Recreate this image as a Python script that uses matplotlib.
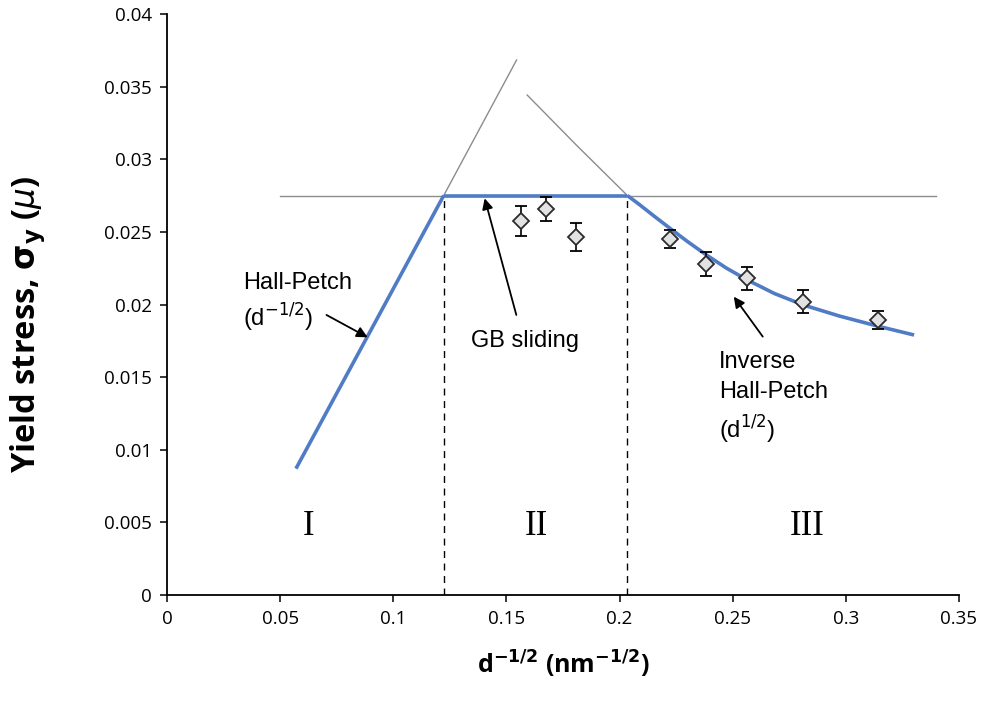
"""Yield stress vs inverse square root of grain size: Hall-Petch regimes."""

import matplotlib
matplotlib.use("Agg")
import matplotlib.pyplot as plt

BLUE = "#4f7cc4"
GRAY = "#8c8c8c"
TICK_FONT = "Open Sans"
LABEL_FONT = "Open Sans"
NOTE_FONT = "Liberation Sans"
ROMAN_FONT = "Liberation Serif"

# regime I: Hall-Petch line
hp_x = [0.057, 0.1223]
hp_y = [0.0087, 0.0275]
# regime II: GB sliding plateau
gb_x = [0.1223, 0.2035]
gb_y = [0.0275, 0.0275]
# regime III: inverse Hall-Petch fit
ihp_x = [0.2035, 0.2088, 0.2155, 0.2221, 0.2300, 0.2384, 0.2472, 0.2561,
         0.2684, 0.2812, 0.2971, 0.3139, 0.3302]
ihp_y = [0.0275, 0.02688, 0.02606, 0.02527, 0.02434, 0.02341, 0.02251, 0.02172,
         0.02076, 0.01997, 0.01921, 0.01852, 0.0179]

# thin grey extensions
ext_hp_x = [0.1223, 0.1545]
ext_hp_y = [0.0275, 0.03683]
ext_ihp_x = [0.1592, 0.1809, 0.2035]
ext_ihp_y = [0.03442, 0.03098, 0.0275]
plateau_x = [0.05, 0.3398]
plateau_y = [0.0275, 0.0275]

# regime boundaries
bounds = [0.1223, 0.2035]

# measured points
pt_x = [0.1566, 0.1673, 0.1806, 0.2221, 0.2383, 0.2562, 0.2812, 0.3141]
pt_y = [0.02575, 0.02657, 0.02467, 0.02451, 0.02279, 0.0218, 0.02019, 0.01893]
pt_err = [0.0010, 0.00084, 0.00096, 0.00065, 0.0008, 0.0008, 0.00078, 0.00065]

x_ticks = [0, 0.05, 0.1, 0.15, 0.2, 0.25, 0.3, 0.35]
x_tick_labels = ["0", "0.05", "0.1", "0.15", "0.2", "0.25", "0.3", "0.35"]
y_ticks = [0, 0.005, 0.01, 0.015, 0.02, 0.025, 0.03, 0.035, 0.04]
y_tick_labels = ["0", "0.005", "0.01", "0.015", "0.02", "0.025", "0.03", "0.035", "0.04"]

fig = plt.figure(figsize=(9.81, 7.07), dpi=100)
ax = fig.add_axes([0.1702, 0.1584, 0.8073, 0.8218])

ax.plot(plateau_x, plateau_y, color=GRAY, lw=1.0, zorder=1)
ax.plot(ext_hp_x, ext_hp_y, color=GRAY, lw=1.0, zorder=1)
ax.plot(ext_ihp_x, ext_ihp_y, color=GRAY, lw=1.0, zorder=1)

for b in bounds:
    ax.plot([b, b], [0, 0.0275], color="black", lw=1.0, ls=(0, (5, 4)), zorder=2)

ax.plot(hp_x, hp_y, color=BLUE, lw=2.6, solid_capstyle="butt", zorder=3)
ax.plot(gb_x, gb_y, color=BLUE, lw=2.6, solid_capstyle="butt", zorder=3)
ax.plot(ihp_x, ihp_y, color=BLUE, lw=2.6, solid_capstyle="butt",
        solid_joinstyle="round", zorder=3)

ax.errorbar(pt_x, pt_y, yerr=pt_err, fmt="D", ms=8.5, mfc="#e2e2e2", mec="#2b2b2b",
            mew=1.3, ecolor="black", elinewidth=1.2, capsize=4.5, capthick=1.2, zorder=4)

ax.set_xlim(0, 0.35)
ax.set_ylim(0, 0.04)
ax.set_xticks(x_ticks)
ax.set_xticklabels(x_tick_labels)
ax.set_yticks(y_ticks)
ax.set_yticklabels(y_tick_labels)
for lab in ax.get_xticklabels() + ax.get_yticklabels():
    lab.set_family(TICK_FONT)
    lab.set_fontsize(13.5)
ax.tick_params(direction="out", length=5, width=1.1, pad=6)

for side in ("top", "right"):
    ax.spines[side].set_visible(False)
for side in ("left", "bottom"):
    ax.spines[side].set_linewidth(1.3)

ax.set_xlabel(r"d$^{\mathbf{-1/2}}$ (nm$^{\mathbf{-1/2}}$)", family=LABEL_FONT,
              fontsize=18, fontweight="bold", labelpad=15)
ax.set_ylabel(r"Yield stress, $\mathbf{\sigma_y}$ ($\mu$)", family=LABEL_FONT,
              fontsize=23.5, fontweight="bold")
ax.yaxis.set_label_coords(-0.150, 0.466)

arrow = dict(arrowstyle="-|>", color="black", lw=1.3, mutation_scale=16, shrinkA=0, shrinkB=0)
ax.annotate("", xy=(0.0887, 0.01774), xytext=(0.0705, 0.01928), arrowprops=arrow)
ax.annotate("", xy=(0.1404, 0.02731), xytext=(0.1544, 0.01928), arrowprops=arrow)
ax.annotate("", xy=(0.2505, 0.02054), xytext=(0.2633, 0.01779), arrowprops=arrow)

ax.text(0.0335, 0.0201, "Hall-Petch\n(d$^{-1/2}$)", family=NOTE_FONT, fontsize=17,
        va="center", ha="left", linespacing=1.3)
ax.text(0.1345, 0.0175, "GB sliding", family=NOTE_FONT, fontsize=17, va="center", ha="left")
ax.text(0.2441, 0.0135, "Inverse\nHall-Petch\n(d$^{1/2}$)", family=NOTE_FONT, fontsize=17,
        va="center", ha="left", linespacing=1.45)

for xr, txt in [(0.0626, "I"), (0.1634, "II"), (0.2830, "III")]:
    ax.text(xr, 0.00475, txt, family=ROMAN_FONT, fontsize=25, ha="center", va="center")

fig.savefig("out.png", dpi=100)
